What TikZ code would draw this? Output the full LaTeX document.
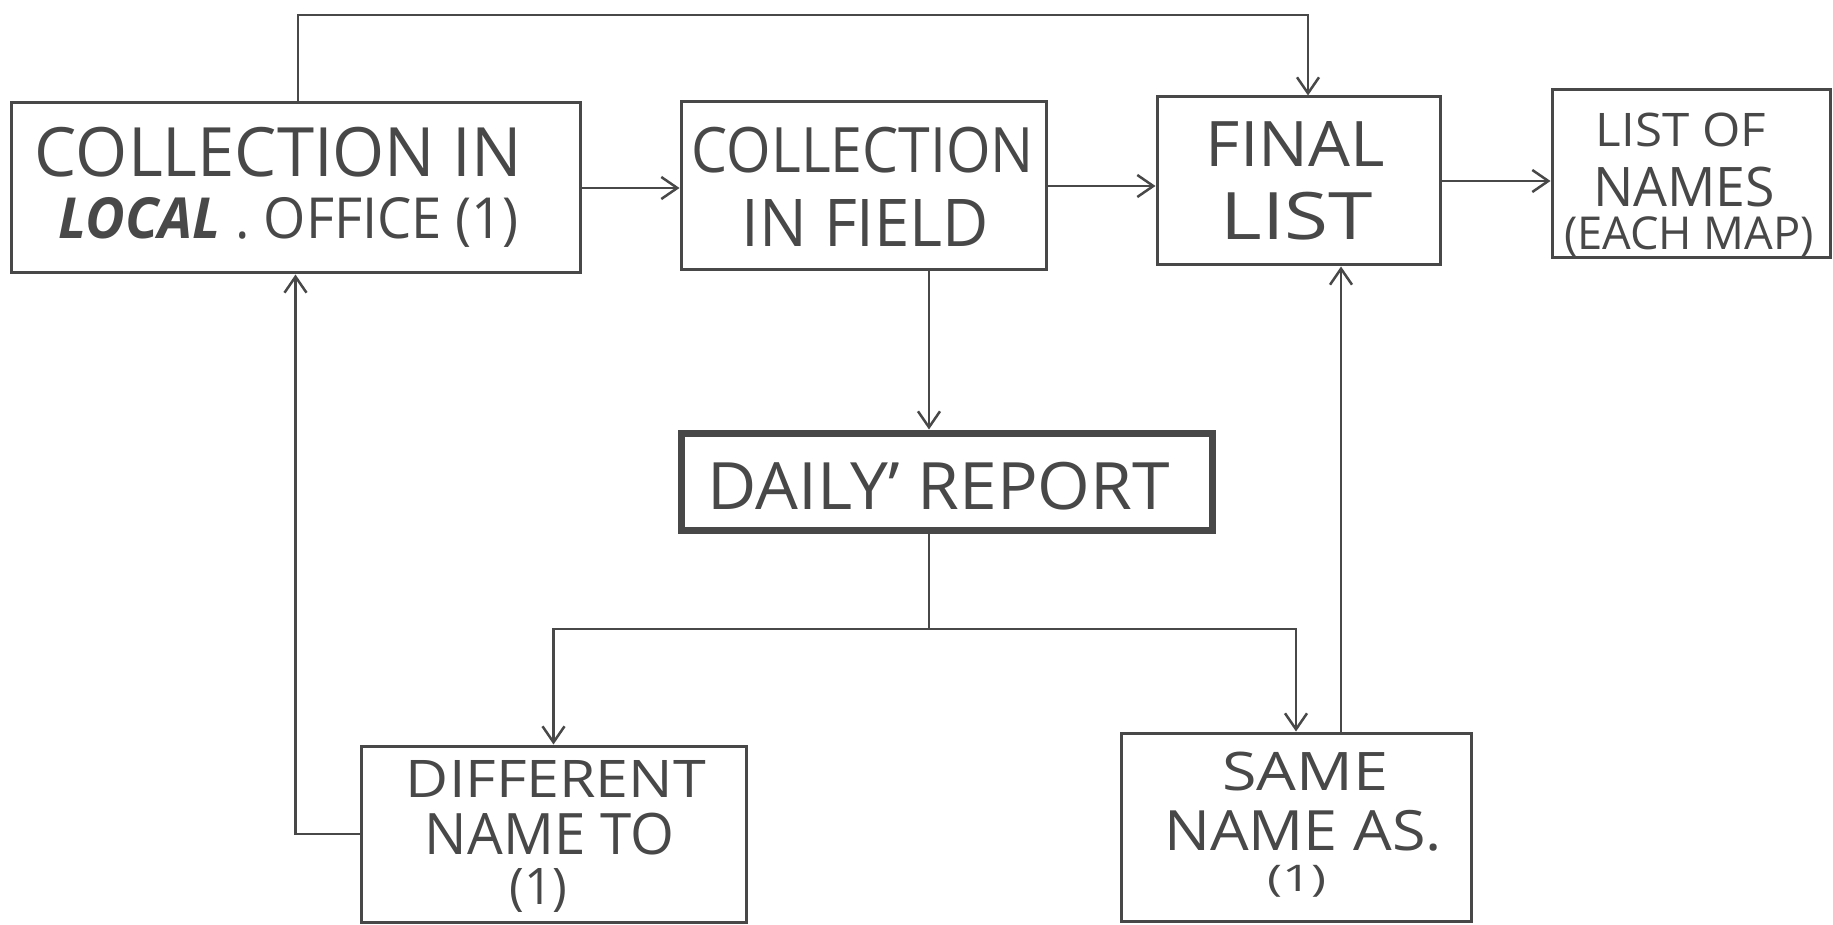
\documentclass[tikz,border=0pt]{standalone}
\usepackage{fontspec}
\setmainfont{Open Sans}
\usepackage{graphicx}
\usetikzlibrary{arrows.meta}
\definecolor{ink}{RGB}{72,72,72}
\newcommand{\fitt}[3]{\resizebox*{#1pt}{#2pt}{#3}}
\begin{document}
\begin{tikzpicture}[x=1pt,y=-1pt,
  box/.style={draw=ink,line width=3pt,rectangle,inner sep=0pt},
  heavybox/.style={draw=ink,line width=7pt,rectangle,inner sep=0pt},
  txt/.style={inner sep=0pt,text=ink},
  conn/.style={draw=ink,line width=2.5pt},
  arr/.style={conn,-{Straight Barb[length=16pt,width=22pt]}}]
\useasboundingbox (0,0) rectangle (1833,925);

% boxes
\node[box,minimum width=569pt,minimum height=170pt] (b1) at (295.5,188) {};
\node[box,minimum width=365pt,minimum height=168pt] (b2) at (863.5,186) {};
\node[box,minimum width=283pt,minimum height=168pt] (b3) at (1298.5,181) {};
\node[box,minimum width=278pt,minimum height=168pt] (b4) at (1691,174) {};
\node[heavybox,minimum width=531pt,minimum height=97pt] (dr) at (946.5,481.5) {};
\node[box,minimum width=385pt,minimum height=176pt] (d) at (553.5,834) {};
\node[box,minimum width=350pt,minimum height=188pt] (s) at (1296,827) {};

% texts
\node[txt] (b1a) at (278.5,152) {\fitt{487}{50}{COLLECTION IN}};
\node[txt] (b1b) at (289,222) {\fitt{460}{50}{\textbf{\textit{LOCAL}} . OFFICE (1)}};
\node[txt] (b2a) at (863,150) {\fitt{342}{46}{COLLECTION}};
\node[txt] (b2b) at (865.5,223) {\fitt{247}{47}{IN FIELD}};
\node[txt] (b3a) at (1295.5,144.5) {\fitt{179}{45}{FINAL}};
\node[txt] (b3b) at (1297,216) {\fitt{152}{48}{LIST}};
\node[txt] (b4a) at (1681,130) {\fitt{170}{34}{LIST OF}};
\node[txt] (b4b) at (1684,187) {\fitt{182}{40}{NAMES}};
\node[txt] (b4c) at (1689,237) {\fitt{250}{40}{(EACH MAP)}};
\node[txt] (dra) at (939,486) {\fitt{462}{48}{DAILY' REPORT}};
\node[txt] (da) at (556,778.5) {\fitt{300}{37}{DIFFERENT}};
\node[txt] (db) at (549.5,834) {\fitt{249}{42}{NAME TO}};
\node[txt] (dc) at (538.5,890) {\fitt{58}{44}{(1)}};
\node[txt] (sa) at (1305,771.5) {\fitt{166}{39}{SAME}};
\node[txt] (sb) at (1303,830.5) {\fitt{278}{41}{NAME AS.}};
\node[txt] (sc) at (1296.5,881) {\fitt{59}{32}{(1)}};

% helper coordinates
\coordinate (top) at (0,15);
\coordinate (v) at (929,0);
\coordinate (split) at (0,629);
\coordinate (u) at (1341,0);

% connectors
\draw[arr] ([xshift=2.5pt]b1.north) -- ([xshift=2.5pt]b1.north |- top) -| ([xshift=9.5pt]b3.north);
\draw[arr] (b1.east) -- (b2.west |- b1.east);
\draw[arr] (b2.east) -- (b3.west |- b2.east);
\draw[arr] (b3.east) -- (b4.west |- b3.east);
\draw[arr] (b2.south -| v) -- (dr.north -| v);
\draw[arr] (dr.south -| v) -- (v |- split) -| (d.north);
\draw[arr] (v |- split) -| (s.north);
\draw[arr] (s.north -| u) -- (b3.south -| u);
\draw[arr] (d.west) -| (b1.south);
\end{tikzpicture}
\end{document}
